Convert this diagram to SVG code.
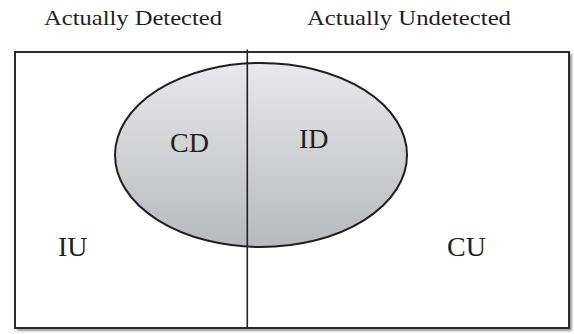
<svg xmlns="http://www.w3.org/2000/svg" width="574" height="334" viewBox="0 0 574 334">
<style>
.t{font-family:"Liberation Serif","Times New Roman",serif;fill:#231f20}
.h{font-size:21px}
.l{font-size:28px}
.edge{stroke:#231f20;fill:none}
</style>
<defs>
<linearGradient id="g" x1="0" y1="0" x2="0" y2="1">
<stop offset="0" stop-color="#e9e9eb"/>
<stop offset="1" stop-color="#b8b9bc"/>
</linearGradient>
<filter id="sh" x="-5%" y="-5%" width="110%" height="110%">
<feGaussianBlur stdDeviation="1.2"/>
</filter>
</defs>
<rect width="574" height="334" fill="#fff"/>
<g id="frame">
<rect x="17" y="54" width="555" height="277" fill="#9a9a9c" filter="url(#sh)"/>
<rect x="15" y="52" width="554" height="276" fill="#fff" stroke="#2b2b2d" stroke-width="2"/>
</g>
<g id="ellipse">
<ellipse cx="261" cy="155" rx="146" ry="92" fill="url(#g)" stroke="#231f20" stroke-width="2"/>
</g>
<g id="connectors">
<line class="edge" x1="247.3" y1="49.5" x2="247.3" y2="327" stroke-width="1.6"/>
</g>
<g id="headers">
<text class="t h" x="44" y="25" textLength="178" lengthAdjust="spacingAndGlyphs">Actually Detected</text>
<text class="t h" x="307" y="25" textLength="204" lengthAdjust="spacingAndGlyphs">Actually Undetected</text>
</g>
<g id="CD"><text class="t l" x="170" y="152">CD</text></g>
<g id="ID"><text class="t l" x="299" y="148">ID</text></g>
<g id="IU"><text class="t l" x="58" y="256">IU</text></g>
<g id="CU"><text class="t l" x="447" y="256">CU</text></g>
</svg>
